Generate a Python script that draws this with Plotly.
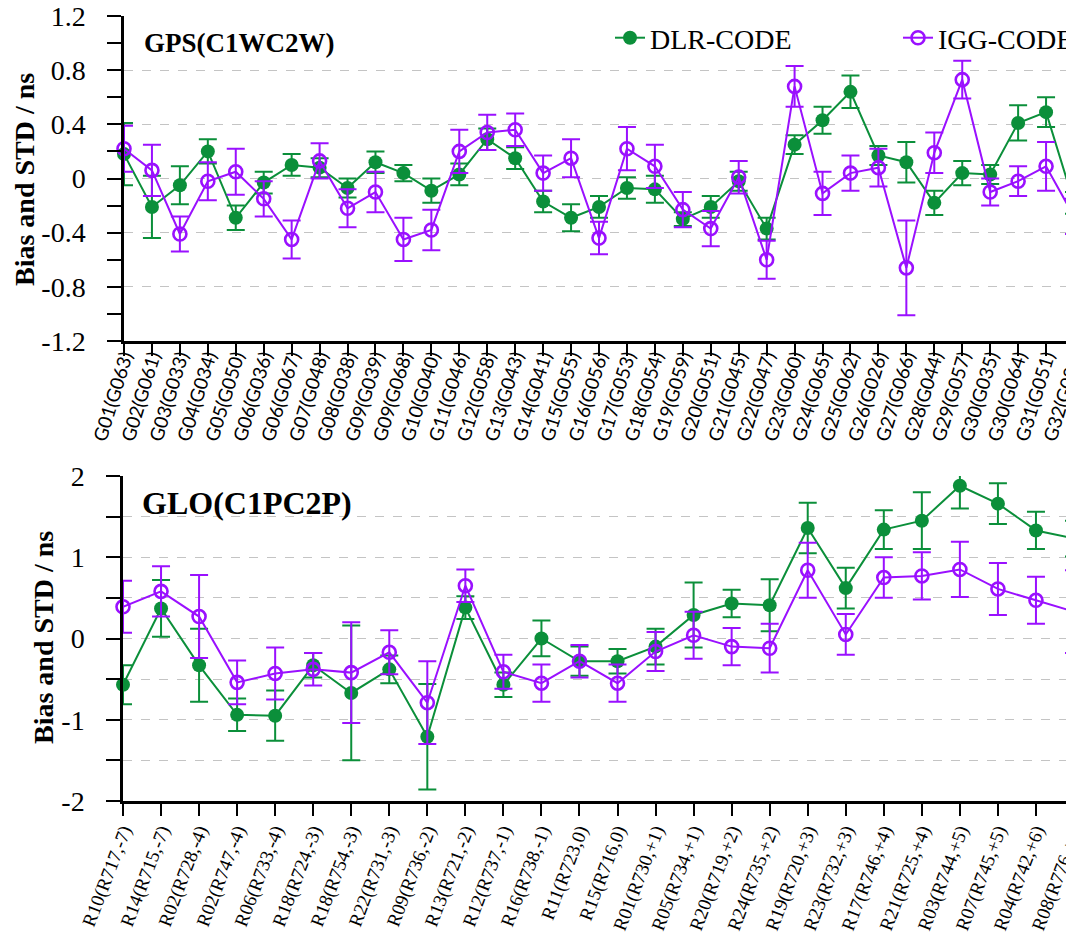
import plotly.graph_objects as go

# ---------------- data ----------------
gps_labels = ["G01(G063)", "G02(G061)", "G03(G033)", "G04(G034)", "G05(G050)", "G06(G036)",
              "G06(G067)", "G07(G048)", "G08(G038)", "G09(G039)", "G09(G068)", "G10(G040)",
              "G11(G046)", "G12(G058)", "G13(G043)", "G14(G041)", "G15(G055)", "G16(G056)",
              "G17(G053)", "G18(G054)", "G19(G059)", "G20(G051)", "G21(G045)", "G22(G047)",
              "G23(G060)", "G24(G065)", "G25(G062)", "G26(G026)", "G27(G066)", "G28(G044)",
              "G29(G057)", "G30(G035)", "G30(G064)", "G31(G051)", "G32(G023)"]
gps_dlr_bias = [0.18, -0.21, -0.05, 0.20, -0.29, -0.03, 0.10, 0.08, -0.07, 0.12, 0.04, -0.09,
                0.03, 0.29, 0.15, -0.17, -0.29, -0.21, -0.07, -0.08, -0.30, -0.21, -0.02, -0.37,
                0.25, 0.43, 0.64, 0.17, 0.12, -0.18, 0.04, 0.03, 0.41, 0.49, -0.18]
gps_dlr_std = [0.23, 0.23, 0.14, 0.09, 0.09, 0.08, 0.08, 0.07, 0.07, 0.08, 0.06, 0.09,
               0.08, 0.08, 0.08, 0.08, 0.10, 0.08, 0.08, 0.10, 0.05, 0.08, 0.07, 0.08,
               0.07, 0.10, 0.12, 0.07, 0.15, 0.09, 0.09, 0.07, 0.13, 0.11, 0.08]
gps_igg_bias = [0.22, 0.06, -0.41, -0.02, 0.05, -0.15, -0.45, 0.13, -0.22, -0.10, -0.45, -0.38,
                0.20, 0.34, 0.36, 0.04, 0.15, -0.44, 0.22, 0.09, -0.23, -0.37, 0.01, -0.60,
                0.68, -0.11, 0.04, 0.08, -0.66, 0.19, 0.73, -0.10, -0.02, 0.09, -0.28]
gps_igg_std = [0.17, 0.19, 0.13, 0.14, 0.17, 0.13, 0.14, 0.13, 0.14, 0.15, 0.16, 0.15,
               0.16, 0.13, 0.12, 0.13, 0.14, 0.12, 0.16, 0.16, 0.13, 0.13, 0.12, 0.14,
               0.15, 0.16, 0.13, 0.14, 0.35, 0.15, 0.14, 0.10, 0.11, 0.18, 0.13]

glo_labels = ["R10(R717,-7)", "R14(R715,-7)", "R02(R728,-4)", "R02(R747,-4)", "R06(R733,-4)",
              "R18(R724,-3)", "R18(R754,-3)", "R22(R731,-3)", "R09(R736,-2)", "R13(R721,-2)",
              "R12(R737,-1)", "R16(R738,-1)", "R11(R723,0)", "R15(R716,0)", "R01(R730,+1)",
              "R05(R734,+1)", "R20(R719,+2)", "R24(R735,+2)", "R19(R720,+3)", "R23(R732,+3)",
              "R17(R746,+4)", "R21(R725,+4)", "R03(R744,+5)", "R07(R745,+5)", "R04(R742,+6)",
              "R08(R776,+6)"]
glo_dlr_bias = [-0.57, 0.37, -0.33, -0.94, -0.95, -0.33, -0.67, -0.38, -1.21, 0.38, -0.57, 0.00,
                -0.28, -0.28, -0.10, 0.29, 0.43, 0.41, 1.36, 0.62, 1.34, 1.45, 1.88, 1.66, 1.33, 1.23]
glo_dlr_std = [0.24, 0.35, 0.45, 0.20, 0.31, 0.15, 0.83, 0.17, 0.65, 0.14, 0.15, 0.22,
               0.18, 0.15, 0.22, 0.40, 0.17, 0.32, 0.31, 0.25, 0.24, 0.35, 0.28, 0.25, 0.23, 0.22]
glo_igg_bias = [0.39, 0.58, 0.27, -0.54, -0.43, -0.38, -0.42, -0.17, -0.79, 0.65, -0.41, -0.55,
                -0.28, -0.55, -0.16, 0.04, -0.10, -0.12, 0.84, 0.05, 0.75, 0.77, 0.85, 0.61, 0.47, 0.33]
glo_igg_std = [0.32, 0.31, 0.51, 0.27, 0.32, 0.20, 0.62, 0.27, 0.51, 0.20, 0.21, 0.23,
               0.20, 0.23, 0.24, 0.29, 0.23, 0.30, 0.34, 0.25, 0.25, 0.29, 0.34, 0.32, 0.29, 0.51]

GREEN = "#0b8f3a"
PURPLE = "#9a10ff"
SERIF = "Liberation Serif, Times New Roman, serif"

# the page body has an 8px margin: figure is drawn at (8, 8) in the window
OFF = 8
W, H = 1074 - OFF, 933 - OFF
L = 123 - OFF


def py(ref_px):
    return 1 - (ref_px - OFF) / H


def pxx(ref_px):
    return (ref_px - OFF - L) / (W - L)


gps_x = list(range(len(gps_labels)))
glo_x = list(range(len(glo_labels)))

fig = go.Figure()


def add_pair(xv, dlr_b, dlr_s, igg_b, igg_s, xa, ya, show):
    fig.add_trace(go.Scatter(
        x=xv, y=dlr_b, name="DLR-CODE", mode="lines+markers", xaxis=xa, yaxis=ya,
        showlegend=show, legend="legend", cliponaxis=False,
        line=dict(color=GREEN, width=2),
        marker=dict(symbol="circle", size=14, color=GREEN),
        error_y=dict(type="data", array=dlr_s, visible=True, color=GREEN, thickness=2, width=9)))
    fig.add_trace(go.Scatter(
        x=xv, y=igg_b, name="IGG-CODE", mode="lines+markers", xaxis=xa, yaxis=ya,
        showlegend=show, legend="legend2", cliponaxis=False,
        line=dict(color=PURPLE, width=2),
        marker=dict(symbol="circle-open", size=13, color=PURPLE, line=dict(width=2.6, color=PURPLE)),
        error_y=dict(type="data", array=igg_s, visible=True, color=PURPLE, thickness=2, width=9)))


add_pair(gps_x, gps_dlr_bias, gps_dlr_std, gps_igg_bias, gps_igg_std, "x", "y", True)
add_pair(glo_x, glo_dlr_bias, glo_dlr_std, glo_igg_bias, glo_igg_std, "x2", "y2", False)

# axes carrying the lines and tick marks
xcommon = dict(showline=True, linecolor="black", linewidth=2.5, ticks="outside", ticklen=12,
               tickwidth=2, tickcolor="black", showgrid=False, zeroline=False, mirror=False,
               automargin=False, showticklabels=False, tickmode="array")
# overlay axes carrying only the rotated tick labels
xlabel_common = dict(showline=False, ticks="", showgrid=False, zeroline=False, mirror=False,
                     automargin=False, tickmode="array", showticklabels=True,
                     ticklabeloverflow="allow")
ycommon = dict(showline=True, linecolor="black", linewidth=2.5, ticks="outside", ticklen=14,
               tickwidth=2, tickcolor="black", showgrid=True, gridcolor="#c4c4c4", griddash="dash",
               gridwidth=1.3, zeroline=False, mirror=False, automargin=False,
               ticklabeloverflow="allow",
               tickfont=dict(family=SERIF, size=28, color="black"), ticklabelstandoff=16)

fig.update_layout(
    width=W, height=H,
    margin=dict(l=L, r=0, t=0, b=0, autoexpand=False),
    paper_bgcolor="white", plot_bgcolor="white",
    xaxis=dict(xcommon, domain=[pxx(124), 1], anchor="y", range=[0, 34], tickvals=gps_x),
    xaxis3=dict(xlabel_common, overlaying="x", anchor="y", range=[0, 34], tickvals=gps_x,
                ticktext=gps_labels, tickangle=-73, ticklabelstandoff=0,
                tickfont=dict(family="Lato, Liberation Sans, sans-serif", size=19, color="black")),
    yaxis=dict(ycommon, domain=[py(341), py(16)], anchor="x", range=[-1.2, 1.2],
               tickvals=[-1.2, -0.8, -0.4, 0, 0.4, 0.8, 1.2],
               ticktext=["-1.2", "-0.8", "-0.4", "0", "0.4", "0.8", "1.2"],
               minor=dict(dtick=0.2, tick0=0, ticks="outside", ticklen=14, tickwidth=2,
                          tickcolor="black", showgrid=False)),
    xaxis2=dict(xcommon, domain=[0, 1], anchor="y2", range=[0, 25], tickvals=glo_x),
    xaxis4=dict(xlabel_common, overlaying="x2", anchor="y2", range=[0, 25], tickvals=glo_x,
                ticktext=glo_labels, tickangle=-69, ticklabelstandoff=14,
                tickfont=dict(family=SERIF, size=19, color="black")),
    yaxis2=dict(ycommon, domain=[py(801), py(476)], anchor="x2", range=[-2, 2],
                tickvals=[-2, -1, 0, 1, 2], ticktext=["-2", "-1", "0", "1", "2"],
                minor=dict(dtick=0.5, tick0=0, ticks="outside", ticklen=14, tickwidth=2,
                           tickcolor="black", showgrid=True, gridcolor="#c4c4c4",
                           griddash="dash", gridwidth=1.3)),
    legend=dict(orientation="h", x=pxx(610), xanchor="left", y=py(38), yanchor="middle",
                font=dict(family=SERIF, size=28, color="black"), bgcolor="rgba(0,0,0,0)"),
    legend2=dict(orientation="h", x=pxx(898), xanchor="left", y=py(38), yanchor="middle",
                 font=dict(family=SERIF, size=28, color="black"), bgcolor="rgba(0,0,0,0)"),
    showlegend=True,
)

# dummy invisible traces so the label-only axes are active
fig.add_trace(go.Scatter(x=[gps_x[0]], y=[None], xaxis="x3", yaxis="y", showlegend=False,
                         hoverinfo="skip", mode="markers"))
fig.add_trace(go.Scatter(x=[glo_x[0]], y=[None], xaxis="x4", yaxis="y2", showlegend=False,
                         hoverinfo="skip", mode="markers"))

annots = [
    dict(text="<b>Bias and STD / ns</b>", x=pxx(24), y=py(180), textangle=-90,
         font=dict(family=SERIF, size=28, color="black")),
    dict(text="<b>Bias and STD / ns</b>", x=pxx(43), y=py(638), textangle=-90,
         font=dict(family=SERIF, size=28, color="black")),
    dict(text="<b>GPS(C1WC2W)</b>", x=pxx(142), y=py(43), xanchor="left",
         font=dict(family=SERIF, size=27, color="black")),
    dict(text="<b>GLO(C1PC2P)</b>", x=pxx(140), y=py(503), xanchor="left",
         font=dict(family=SERIF, size=32, color="black")),
]
for a in annots:
    a.update(xref="paper", yref="paper", showarrow=False)
    if "xanchor" not in a:
        a["xanchor"] = "center"
    a["yanchor"] = "middle"
fig.update_layout(annotations=annots)

fig.write_html("out.html")
